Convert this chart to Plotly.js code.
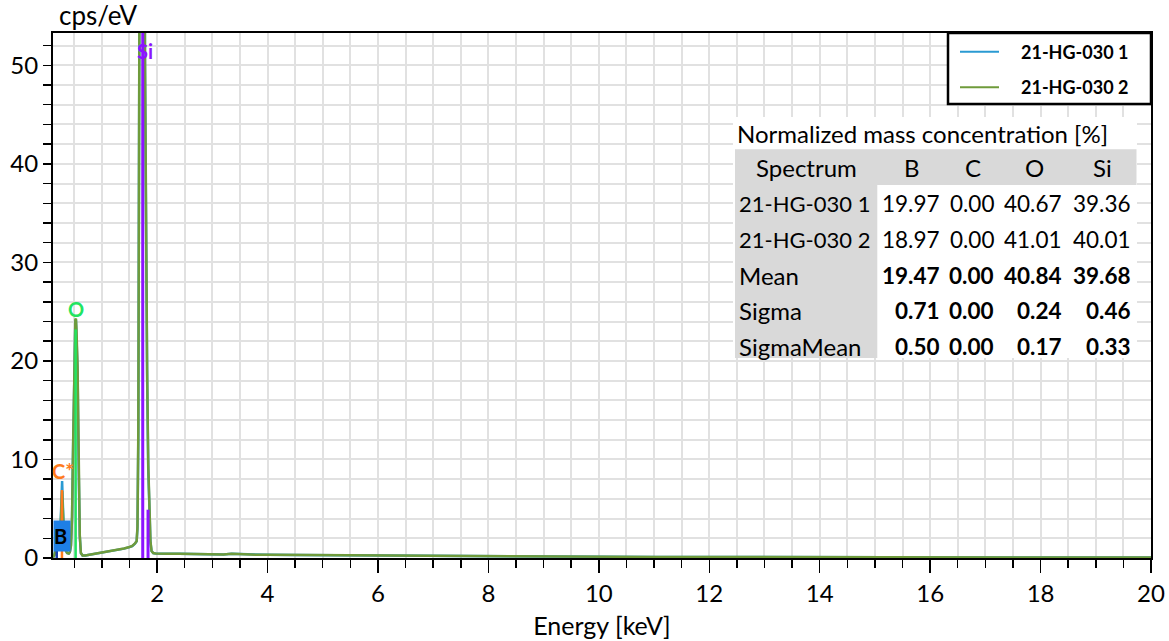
<!DOCTYPE html>
<html>
<head>
<meta charset="utf-8">
<script src="https://cdn.plot.ly/plotly-3.0.1.min.js"></script>
<style>html,body{margin:0;padding:0;background:#fff;}#chart{width:1169px;height:641px;}</style>
</head>
<body>
<div id="chart"></div>
<script>
// ---------- data ----------
const energy = [0.115,0.14,0.16,0.18,0.20,0.22,0.24,0.26,0.27,0.28,0.29,0.30,0.32,0.34,0.37,0.40,0.42,0.44,0.46,0.48,0.50,0.52,0.53,0.54,0.56,0.58,0.60,0.62,0.65,0.70,0.80,0.90,1.00,1.10,1.20,1.30,1.40,1.50,1.55,1.60,1.63,1.645,1.66,1.68,1.70,1.72,1.74,1.76,1.78,1.80,1.82,1.84,1.86,1.88,1.90,1.93,1.97,2.00,2.20,2.40,2.60,2.80,3.00,3.20,3.35,3.45,3.60,3.80,4.00,4.50,5.00,5.50,6.00,6.50,7.00,7.50,8.00,9.00,10.0,11.0,12.0,13.0,14.0,15.0,16.0,17.0,18.0,19.0,20.0];
const cps1 = [0.05,0.3,0.9,1.4,1.2,0.9,1.5,5.0,7.2,7.8,6.0,3.5,1.4,0.9,0.5,0.45,0.6,1.2,4.0,11.5,19.5,24.0,24.2,23.0,19.0,9.0,2.2,0.5,0.25,0.25,0.35,0.45,0.55,0.62,0.70,0.80,0.95,1.10,1.20,1.45,1.70,3.0,12,55,110,150,160,120,50,30,18,9,4.5,1.6,0.7,0.5,0.45,0.44,0.43,0.42,0.40,0.39,0.37,0.36,0.42,0.40,0.35,0.33,0.32,0.30,0.28,0.26,0.25,0.23,0.21,0.19,0.18,0.15,0.13,0.11,0.10,0.09,0.08,0.07,0.065,0.06,0.055,0.05,0.045];
const cps2 = [0.05,0.3,0.8,1.3,1.1,0.9,1.4,4.6,6.4,6.8,5.4,3.2,1.3,0.8,0.5,0.45,0.6,1.3,4.2,11.8,19.8,24.2,24.3,23.2,19.4,9.2,2.3,0.5,0.25,0.26,0.36,0.46,0.56,0.63,0.71,0.82,0.96,1.12,1.22,1.48,1.72,3.2,13,57,112,152,162,122,52,31,19,9.5,4.6,1.7,0.7,0.5,0.46,0.45,0.44,0.42,0.41,0.39,0.38,0.36,0.43,0.40,0.35,0.33,0.32,0.30,0.28,0.26,0.25,0.23,0.21,0.19,0.18,0.15,0.13,0.11,0.10,0.09,0.08,0.07,0.065,0.06,0.055,0.05,0.045];
const seriesNames = ['21-HG-030 1','21-HG-030 2'];

// element marker lines (keV, cps/eV)
const elementNames   = ['B','C*','O','Si','Si'];
const elementEnergy  = [0.183,0.277,0.525,1.740,1.836];
const elementHeight  = [1.6,6.9,23.2,80,4.9];
const labelX = [0.279,0.30,0.527,1.78];
const labelY = [2.2,8.85,25.3,51.5];

// table
const tableTitle = 'Normalized mass concentration [%]';
const tableColumns = ['Spectrum','B','C','O','Si'];
const tableRows = ['21-HG-030 1','21-HG-030 2','Mean','Sigma','SigmaMean'];
const tableValues = [
  [19.97,0.00,40.67,39.36],
  [18.97,0.00,41.01,40.01],
  [19.47,0.00,40.84,39.68],
  [0.71,0.00,0.24,0.46],
  [0.50,0.00,0.17,0.33]
];
const boldRows = [false,false,true,true,true];

const xTickVals = [2,4,6,8,10,12,14,16,18,20];
const yTickVals = [0,10,20,30,40,50];

// ---------- styling / layout ----------
const FONT = 'Lato, "Open Sans", sans-serif';
const L = 53, T = 33, W = 1098, H = 525.3;
const PX = x => (x - L) / W;
const PY = y => (T + H - y) / H;

const seriesColors = ['#2a9ad2','#6f9b3b'];
const elementColors = ['#1a3fa8','#ff7b1c','#22e460','#8c14ff','#8c14ff'];

const traces = [];
[cps1, cps2].forEach((c, i) => {
  traces.push({x: energy, y: c, type: 'scatter', mode: 'lines', name: seriesNames[i],
    line: {color: seriesColors[i], width: 2.5}, showlegend: false, hoverinfo: 'x+y'});
});
elementEnergy.forEach((e, i) => {
  traces.push({x: [e, e], y: [0, elementHeight[i]], type: 'scatter', mode: 'lines',
    line: {color: elementColors[i], width: i >= 3 ? 3 : 2.5}, showlegend: false, hoverinfo: 'skip'});
});

const annotations = [];
const shapes = [];

// y axis title at top-left
annotations.push({xref: 'paper', yref: 'paper', x: PX(57), y: PY(15), xanchor: 'left', yanchor: 'middle',
  text: 'cps/eV', showarrow: false, font: {family: FONT, size: 26, color: '#000'}});

// element labels
const labelColors = ['#000','#ff7b1c','#22e460','#8c14ff'];
for (let i = 0; i < 4; i++) {
  const a = {xref: 'x', yref: 'y', x: labelX[i], y: labelY[i], text: '<b>' + elementNames[i] + '</b>',
    showarrow: false, font: {family: FONT, size: 20, color: labelColors[i]}};
  if (i === 0) {
    Object.assign(a, {bgcolor: '#1e7fe6', width: 16, height: 30, align: 'left', borderpad: 0});
  }
  annotations.push(a);
}

// legend box (manual)
shapes.push({type: 'rect', xref: 'paper', yref: 'paper', x0: PX(948), x1: PX(1151), y0: PY(104), y1: PY(33),
  line: {color: '#000', width: 2.5}, fillcolor: '#fff', layer: 'above'});
const legY = [51.7, 87.3];
seriesNames.forEach((n, i) => {
  shapes.push({type: 'line', xref: 'paper', yref: 'paper', x0: PX(960), x1: PX(999), y0: PY(legY[i]), y1: PY(legY[i]),
    line: {color: seriesColors[i], width: 2}});
  annotations.push({xref: 'paper', yref: 'paper', x: PX(1019), y: PY(legY[i]), xanchor: 'left', yanchor: 'middle',
    text: '<b>' + n + '</b>', showarrow: false, font: {family: FONT, size: 18, color: '#000'}});
});

// table background
shapes.push({type: 'rect', xref: 'paper', yref: 'paper', x0: PX(733), x1: PX(1137), y0: PY(358.3), y1: PY(117),
  line: {width: 0}, fillcolor: '#fff', layer: 'above'});
shapes.push({type: 'rect', xref: 'paper', yref: 'paper', x0: PX(735), x1: PX(1136.5), y0: PY(185), y1: PY(149.3),
  line: {width: 0}, fillcolor: '#d9d9d9', layer: 'above'});
shapes.push({type: 'rect', xref: 'paper', yref: 'paper', x0: PX(735), x1: PX(877.3), y0: PY(358.3), y1: PY(185),
  line: {width: 0}, fillcolor: '#d9d9d9', layer: 'above'});

const TF = {family: FONT, size: 24, color: '#000'};
const VF = {family: FONT, size: 22.5, color: '#000'};
annotations.push({xref: 'paper', yref: 'paper', x: PX(735), y: PY(134), xanchor: 'left', yanchor: 'middle',
  text: tableTitle, showarrow: false, font: TF});
const headerX = [806, 912, 973, 1034, 1102];
tableColumns.forEach((c, j) => {
  annotations.push({xref: 'paper', yref: 'paper', x: PX(headerX[j]), y: PY(168), xanchor: 'center', yanchor: 'middle',
    text: c, showarrow: false, font: TF});
});
const rowY = [204, 240, 275.5, 311, 346.7];
const valRight = [942, 996, 1064, 1133];
tableRows.forEach((r, i) => {
  annotations.push({xref: 'paper', yref: 'paper', x: PX(737), y: PY(rowY[i]), xanchor: 'left', yanchor: 'middle',
    text: r, showarrow: false, font: i < 2 ? {family: FONT, size: 22, color: '#000'} : TF});
  tableValues[i].forEach((v, j) => {
    const t = v.toFixed(2);
    annotations.push({xref: 'paper', yref: 'paper', x: PX(valRight[j]), y: PY(rowY[i]), xanchor: 'right', yanchor: 'middle',
      text: boldRows[i] ? '<b>' + t + '</b>' : t, showarrow: false, font: VF});
  });
});

const layout = {
  width: 1169, height: 641,
  margin: {l: L, r: 1169 - L - W, t: T, b: 641 - T - H, pad: 0},
  paper_bgcolor: '#fff', plot_bgcolor: '#fff',
  font: {family: FONT, color: '#000'},
  showlegend: false,
  xaxis: {
    range: [0.115, 20], tickmode: 'array', tickvals: xTickVals, ticktext: xTickVals.map(String),
    ticks: 'outside', ticklen: 13, tickwidth: 1.5, tickcolor: '#000',
    tickfont: {family: FONT, size: 24, color: '#000'},
    showgrid: true, gridcolor: '#e1e1e1', gridwidth: 2,
    minor: {dtick: 0.5, tick0: 0, ticks: 'outside', ticklen: 8, tickwidth: 1.5, tickcolor: '#000', showgrid: true, gridcolor: '#e1e1e1', gridwidth: 2},
    showline: true, linecolor: '#000', linewidth: 2, mirror: true,
    zeroline: false, automargin: false, layer: 'below traces',
    title: {text: 'Energy [keV]', font: {family: FONT, size: 25, color: '#000'}, standoff: 12}
  },
  yaxis: {
    range: [0, 53.28], tickmode: 'array', tickvals: yTickVals, ticktext: yTickVals.map(String),
    ticks: 'outside', ticklen: 8, tickwidth: 1.5, tickcolor: '#000',
    tickfont: {family: FONT, size: 24, color: '#000'},
    showgrid: true, gridcolor: '#e1e1e1', gridwidth: 2,
    minor: {dtick: 2, tick0: 0, ticks: 'outside', ticklen: 8, tickwidth: 1.5, tickcolor: '#000', showgrid: true, gridcolor: '#e1e1e1', gridwidth: 2},
    showline: true, linecolor: '#000', linewidth: 2, mirror: true,
    zeroline: false, automargin: false, layer: 'below traces'
  },
  annotations: annotations,
  shapes: shapes
};

Plotly.newPlot('chart', traces, layout, {displayModeBar: false, staticPlot: true});
</script>
</body>
</html>
